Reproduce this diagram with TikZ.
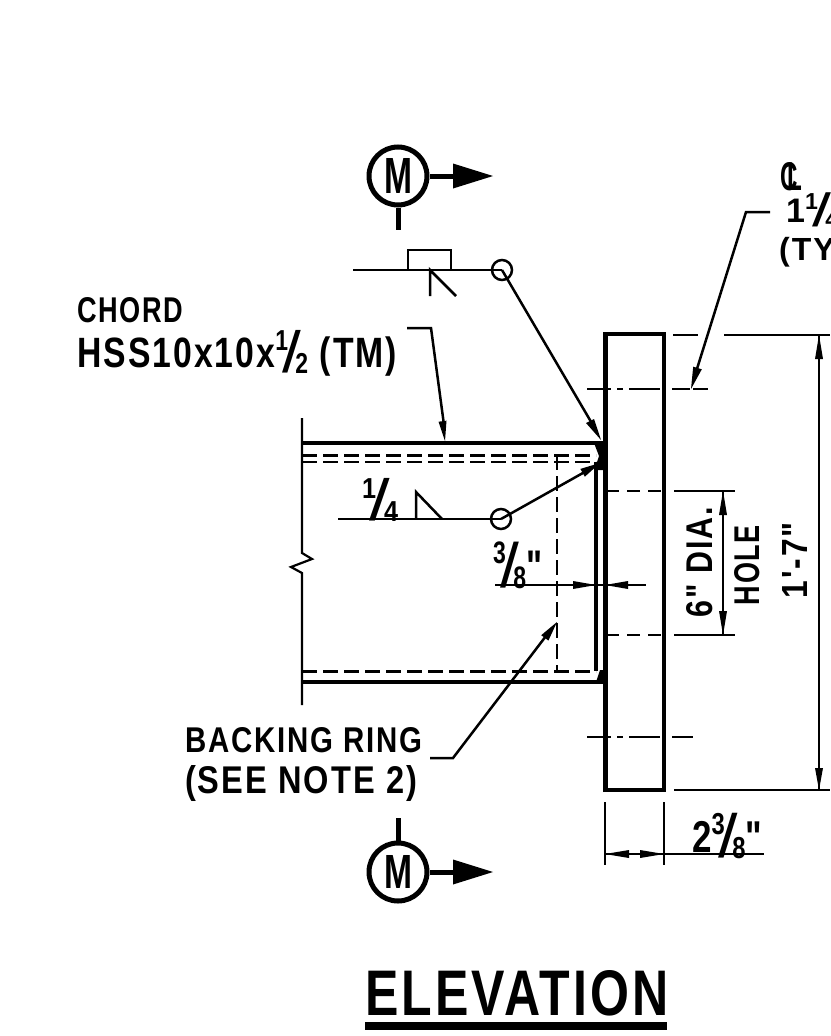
\documentclass[tikz,border=0pt]{standalone}
\usepackage{fontspec}
\setmainfont{Liberation Sans}[LetterSpace=6,Ligatures=TeXOff]
\usepackage{tikz}
\newcommand{\cadbox}[3]{\resizebox{#1pt}{#2pt}{\bfseries #3}}
\newcommand{\cadfrac}[2]{\raisebox{.4em}{\scalebox{.68}{#1}}\kern-.17em\raisebox{-.12em}{\mdseries\scalebox{2}[1.37]{/}}\kern-.17em\raisebox{-.14em}{\scalebox{.68}{#2}}}
\newcommand{\cadgap}{\hspace{.35em}}
\begin{document}
\begin{tikzpicture}[x=1pt,y=-1pt]
                      \tikzstyle{every node}+=[inner sep=0pt]
                      \tikzstyle{cadtext}=[anchor=north west]
                      \tikzstyle{sectcircle}=[draw,circle,line width=5pt,minimum size=58pt]
                      \tikzstyle{heavy}=[line width=5pt]
                      \tikzstyle{mid}=[line width=2.5pt]
                      \tikzstyle{light}=[line width=2.2pt]
                      \clip (0,0) rectangle (830,1036);
                      \node (markTop) [sectcircle] at (398,176) {\cadbox{28}{35}{M}};
                      \node (markBot) [sectcircle] at (398,872) {\resizebox{28pt}{33pt}{\bfseries M}};
                      \draw [heavy] (markTop.east) -- (455,176);
                      \fill [black] (493,176) -- (453,163.5) -- (453,188.5);
                      \draw [heavy] (markTop.south) -- (398,230);
                      \draw [heavy] (markBot.east) -- (455,872);
                      \fill [black] (493,872) -- (453,859.5) -- (453,884.5);
                      \draw [heavy] (markBot.north) -- (398,818);
                      \node (tailA) [draw,circle,mid,minimum size=20pt] at (502,270) {};
                      \node (tailB) [draw,circle,mid,minimum size=20pt] at (501,519) {};
                      \draw [mid] (353,270) -- (tailA.center);
                      \draw [mid] (408,270) -- (408,250) -- (451,250) -- (451,270);
                      \draw [mid] (430,296) -- (430,270) -- (456,296);
                      \draw [mid] (tailA.center) -- (597,432);
                      \fill [black] (601,440) -- (594,419) -- (586,423);
                      \draw [mid] (338,519) -- (tailB.center);
                      \draw [mid] (416,519) -- (416,492) -- (442,519);
                      \draw [mid] (tailB.center) -- (590,469);
                      \fill [black] (600,463) -- (584.8,476.7) -- (580.4,468.9);
                      \fill [black] (594,443) -- (605,443) -- (605,470) -- (597,470) -- (597,462) -- (599,456) -- cycle;
                      \fill [black] (596,682) -- (605,682) -- (605,670) -- (600,670) -- cycle;
                      \draw [line width=4.4pt] (302,443) -- (605,443);
                      \draw [line width=4.4pt] (302,682) -- (605,682);
                      \draw [light] (302,418) -- (302,553) -- (312,559) -- (291,567) -- (302,573) -- (302,705);
                      \draw [line width=3pt,dash pattern=on 15pt off 6pt] (302,455) -- (596,455);
                      \draw [light,dash pattern=on 15pt off 6pt] (302,462) -- (596,462);
                      \draw [line width=3pt,dash pattern=on 15pt off 6pt] (302,671) -- (596,671);
                      \draw [mid,dash pattern=on 15pt off 6pt] (557,455) -- (557,671);
                      \draw [line width=3.7pt] (596,462) -- (596,671);
                      \draw [line width=5pt] (605,792) -- (605,332);
                      \draw [line width=4.4pt] (603,334) -- (666,334);
                      \draw [line width=4pt] (664,334) -- (664,790);
                      \draw [line width=4.4pt] (603,790) -- (666,790);
                      \foreach \a/\b in {587/611,617/623,629/660,672/690,693/708} \draw [mid] (\a,389) -- (\b,389);
                      \foreach \a/\b in {587/611,617/623,629/660,672/693} \draw [mid] (\a,737) -- (\b,737);
                      \draw [mid,dash pattern=on 13pt off 8pt] (606,491) -- (662,491);
                      \draw [mid,dash pattern=on 13pt off 8pt] (606,635) -- (662,635);
                      \draw [mid] (674,491) -- (735,491);
                      \draw [mid] (674,635) -- (735,635);
                      \draw [mid] (723,491) -- (723,635);
                      \fill [black] (723,491) -- (719,515) -- (727,515);
                      \fill [black] (723,635) -- (719,611) -- (727,611);
                      \draw [mid] (673,335) -- (698,335);
                      \draw [mid] (724,335) -- (830,335);
                      \draw [mid] (674,790) -- (830,790);
                      \draw [mid] (819,335) -- (819,790);
                      \fill [black] (819,335) -- (815,359) -- (823,359);
                      \fill [black] (819,790) -- (815,768) -- (823,768);
                      \draw [mid] (495,585) -- (646,585);
                      \fill [black] (596,585) -- (573,581) -- (573,589);
                      \fill [black] (605,585) -- (628,581) -- (628,589);
                      \draw [mid] (605,802) -- (605,865);
                      \draw [mid] (664,802) -- (664,865);
                      \draw [mid] (605,854) -- (764,854);
                      \fill [black] (605,854) -- (629,850) -- (629,858);
                      \fill [black] (664,854) -- (640,850) -- (640,858);
                      \node (chordA) [cadtext] at (77,297) {\cadbox{106}{25}{CHORD}};
                      \node (chordB) [cadtext] at (77,330) {\cadbox{320}{37}{HSS10x10x\cadfrac{1}{2}\cadgap(TM)}};
                      \draw [mid] (407,328) -- (431,328) -- (444,425);
                      \fill [black] (445,441) -- (446.5,420.7) -- (438.5,421.7);
                      \node (ringA) [cadtext] at (185,727) {\cadbox{237}{25}{BACKING\cadgap RING}};
                      \node (ringB) [cadtext] at (185,765) {\cadbox{232}{28}{(SEE\cadgap NOTE\cadgap 2)}};
                      \draw [mid] (430,758) -- (453,758) -- (546,636);
                      \fill [black] (557,622) -- (548.4,640.6) -- (541.2,635.2);
                      \node (centerMark) [cadtext] at (780,162) {\cadbox{22}{28}{\rlap{C}\kern.3em L}};
                      \node (boltSize) [cadtext] at (786,193) {\fontsize{34}{34}\bfseries\selectfont 1\cadfrac{1}{4}};
                      \node (boltNote) [cadtext] at (779,237) {\fontsize{32}{32}\bfseries\selectfont (TY};
                      \draw [mid] (770,212) -- (746,212) -- (696,372);
                      \fill [black] (691,389) -- (701.8,369.3) -- (693.2,366.7);
                      \node (weldSize) [cadtext] at (362,478) {\cadbox{36}{37}{\cadfrac{1}{4}}};
                      \node (gapSize) [cadtext] at (493,542) {\cadbox{49}{40}{\cadfrac{3}{8}"}};
                      \node (plateSize) [cadtext] at (692,813) {\cadbox{70}{39}{2\cadfrac{3}{8}"}};
                      \node (holeA) [rotate=90] at (700,562) {\cadbox{110}{26}{6"\cadgap DIA.}};
                      \node (holeB) [rotate=90] at (747,565) {\cadbox{80}{25}{HOLE}};
                      \node (plateLen) [rotate=90] at (795,560) {\cadbox{76}{25}{1'-7"}};
                      \node (viewTitle) [cadtext] at (365,970) {\cadbox{303}{45}{ELEVATION}};
                      \draw [line width=8pt] (365,1026) -- (667,1026);
                  \end{tikzpicture}
\end{document}
